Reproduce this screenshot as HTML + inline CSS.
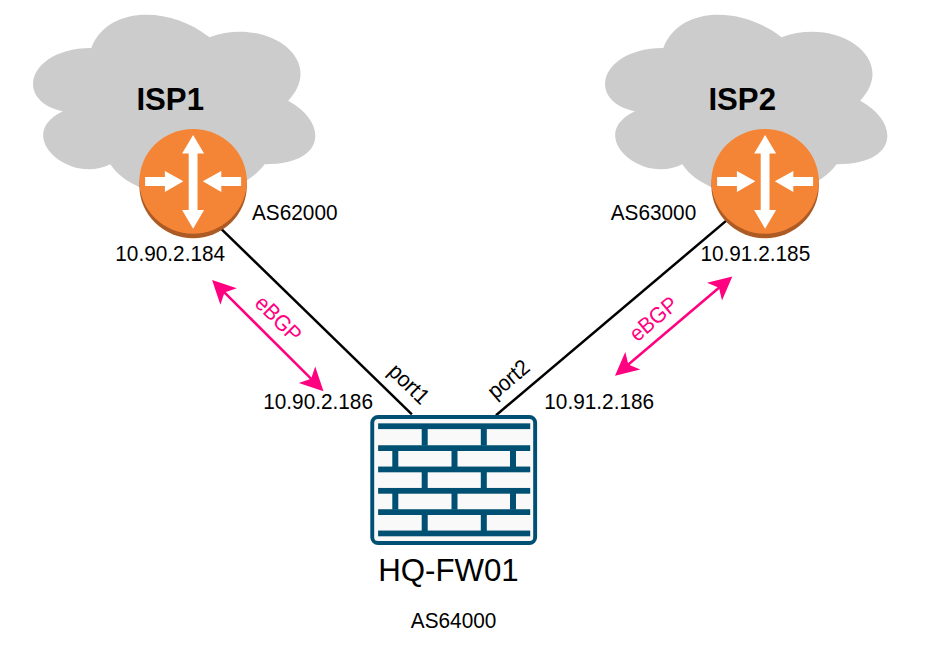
<!DOCTYPE html>
<html><head><meta charset="utf-8"><style>
html,body{margin:0;padding:0;background:#FFFFFF;width:927px;height:650px;overflow:hidden;}
svg{display:block;font-family:"Liberation Sans",sans-serif;}
</style></head><body>
<svg width="927" height="650" viewBox="0 0 927 650">
<rect width="927" height="650" fill="#FFFFFF"/>
<path transform="translate(12.6 -5.0) scale(315 211.5)" d="M0.25 0.25C0.05 0.25 0 0.5 0.16 0.55C0 0.66 0.18 0.9 0.31 0.8C0.4 1 0.7 1 0.8 0.8C1 0.8 1 0.6 0.875 0.5C1 0.3 0.8 0.1 0.625 0.2C0.5 0.05 0.3 0.05 0.25 0.25Z" fill="#CCCCCC"/>
<path transform="translate(584.6 -5.0) scale(315 211.5)" d="M0.25 0.25C0.05 0.25 0 0.5 0.16 0.55C0 0.66 0.18 0.9 0.31 0.8C0.4 1 0.7 1 0.8 0.8C1 0.8 1 0.6 0.875 0.5C1 0.3 0.8 0.1 0.625 0.2C0.5 0.05 0.3 0.05 0.25 0.25Z" fill="#CCCCCC"/>
<text transform="translate(136.4 109.9) scale(1.04 1.075)" font-size="30" font-weight="bold" fill="#000000">ISP1</text>
<text transform="translate(708.4 109.9) scale(1.04 1.075)" font-size="30" font-weight="bold" fill="#000000">ISP2</text>
<line x1="205" y1="213.1" x2="411.9" y2="414.4" stroke="#000" stroke-width="2.5"/>
<line x1="745" y1="204.9" x2="496" y2="415.3" stroke="#000" stroke-width="2.5"/>
<ellipse cx="193.1" cy="185.8" rx="53.7" ry="52.4" fill="#AC5B24"/>
<ellipse cx="193.1" cy="181.3" rx="53.7" ry="52.4" fill="#F58536"/>
<polygon fill="#FFFFFF" points="193.1,135.1 204.1,153.5 197.5,153.5 197.5,210.1 204.1,210.1 193.1,228.7 182.1,210.1 188.7,210.1 188.7,153.5 182.1,153.5"/>
<polygon fill="#FFFFFF" points="145.1,177.1 164.9,177.1 164.9,171.1 183.4,181.3 164.9,192.0 164.9,186.0 145.1,186.0"/>
<polygon fill="#FFFFFF" points="241.1,177.1 221.3,177.1 221.3,171.1 202.8,181.3 221.3,192.0 221.3,186.0 241.1,186.0"/>
<ellipse cx="765.1" cy="185.8" rx="53.7" ry="52.4" fill="#AC5B24"/>
<ellipse cx="765.1" cy="181.3" rx="53.7" ry="52.4" fill="#F58536"/>
<polygon fill="#FFFFFF" points="765.1,135.1 776.1,153.5 769.5,153.5 769.5,210.1 776.1,210.1 765.1,228.7 754.1,210.1 760.7,210.1 760.7,153.5 754.1,153.5"/>
<polygon fill="#FFFFFF" points="717.1,177.1 736.9,177.1 736.9,171.1 755.4,181.3 736.9,192.0 736.9,186.0 717.1,186.0"/>
<polygon fill="#FFFFFF" points="813.1,177.1 793.3,177.1 793.3,171.1 774.8,181.3 793.3,192.0 793.3,186.0 813.1,186.0"/>
<rect x="372.25" y="416.95" width="162.9" height="126.1" rx="5.8" fill="#F9F9F9" stroke="#005073" stroke-width="3.9"/>
<rect x="378.10" y="423.35" width="152.10" height="5.75" fill="#005073"/>
<rect x="378.10" y="445.25" width="152.10" height="5.75" fill="#005073"/>
<rect x="378.10" y="466.55" width="152.10" height="5.75" fill="#005073"/>
<rect x="378.10" y="487.95" width="152.10" height="5.75" fill="#005073"/>
<rect x="378.10" y="509.25" width="152.10" height="5.75" fill="#005073"/>
<rect x="378.10" y="530.55" width="152.10" height="5.75" fill="#005073"/>
<rect x="421.70" y="428.30" width="6.0" height="17.40" fill="#005073"/>
<rect x="480.80" y="428.30" width="6.0" height="17.40" fill="#005073"/>
<rect x="392.30" y="450.20" width="6.0" height="16.80" fill="#005073"/>
<rect x="451.50" y="450.20" width="6.0" height="16.80" fill="#005073"/>
<rect x="510.00" y="450.20" width="6.0" height="16.80" fill="#005073"/>
<rect x="421.70" y="471.50" width="6.0" height="16.90" fill="#005073"/>
<rect x="480.80" y="471.50" width="6.0" height="16.90" fill="#005073"/>
<rect x="392.30" y="492.90" width="6.0" height="16.80" fill="#005073"/>
<rect x="451.50" y="492.90" width="6.0" height="16.80" fill="#005073"/>
<rect x="510.00" y="492.90" width="6.0" height="16.80" fill="#005073"/>
<rect x="421.70" y="514.20" width="6.0" height="16.80" fill="#005073"/>
<rect x="480.80" y="514.20" width="6.0" height="16.80" fill="#005073"/>
<line x1="223.65" y1="291.62" x2="311.95" y2="379.68" stroke="#FF0080" stroke-width="2.5"/>
<polygon fill="#FF0080" points="212.10,280.10 220.41,304.77 224.47,292.44 236.79,288.34"/>
<polygon fill="#FF0080" points="323.50,391.20 315.19,366.53 311.13,378.86 298.81,382.96"/>
<line x1="627.45" y1="365.26" x2="719.85" y2="287.04" stroke="#FF0080" stroke-width="2.5"/>
<polygon fill="#FF0080" points="615.00,375.80 640.28,369.60 628.34,364.51 625.29,351.89"/>
<polygon fill="#FF0080" points="732.30,276.50 707.02,282.70 718.96,287.79 722.01,300.41"/>
<text transform="translate(252 219.8) scale(1 1.065)" font-size="20.8" font-weight="normal" fill="#000000">AS62000</text>
<text transform="translate(115.3 260.9) scale(1 1.065)" font-size="20.8" font-weight="normal" fill="#000000">10.90.2.184</text>
<text transform="translate(610.7 220.4) scale(1 1.065)" font-size="20.8" font-weight="normal" fill="#000000">AS63000</text>
<text transform="translate(700.4 260.9) scale(1 1.065)" font-size="20.8" font-weight="normal" fill="#000000">10.91.2.185</text>
<text transform="translate(263.2 408.6) scale(1 1.065)" font-size="20.8" font-weight="normal" fill="#000000">10.90.2.186</text>
<text transform="translate(544.3 408.6) scale(1 1.065)" font-size="20.8" font-weight="normal" fill="#000000">10.91.2.186</text>
<text transform="translate(378.2 580.8) scale(1.017 1.0)" font-size="30.7" font-weight="normal" fill="#000000">HQ-FW01</text>
<text transform="translate(410.8 627.5) scale(1 1.065)" font-size="20.8" font-weight="normal" fill="#000000">AS64000</text>
<g transform="translate(278.5 318.6) rotate(45) scale(1 1.065)"><text x="0" y="7.2" text-anchor="middle" font-size="20.8" fill="#FF0080">eBGP</text></g>
<g transform="translate(653.4 318.6) rotate(-40.25) scale(1 1.065)"><text x="0" y="7.2" text-anchor="middle" font-size="20.8" fill="#FF0080">eBGP</text></g>
<g transform="translate(407.5 385.5) rotate(44.2) scale(1 1.065)"><text x="0" y="4.8" text-anchor="middle" font-size="20.8" fill="#000000">port1</text></g>
<g transform="translate(510.0 380.9) rotate(-40.06) scale(1 1.065)"><text x="0" y="4.8" text-anchor="middle" font-size="20.8" fill="#000000">port2</text></g>
</svg>
</body></html>
